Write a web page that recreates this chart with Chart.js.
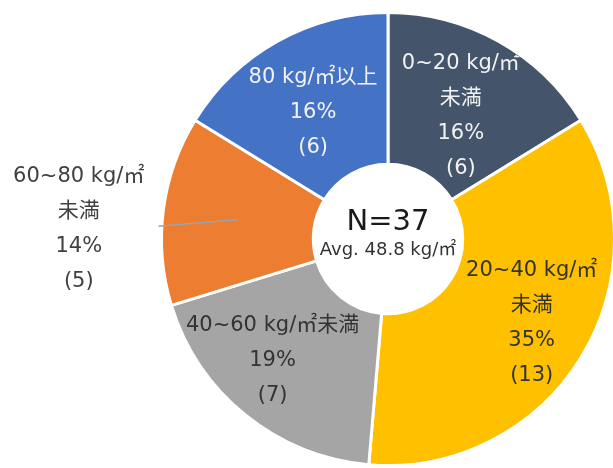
<!DOCTYPE html>
<html>
<head>
<meta charset="utf-8">
<script src="https://cdn.jsdelivr.net/npm/chart.js@4/dist/chart.umd.min.js"></script>
<style>
  html, body { margin: 0; padding: 0; background: #ffffff; overflow: hidden; width: 613px; height: 468px; }
  #wrap { position: absolute; left: 0; top: 0; width: 620px; height: 468px; }
</style>
</head>
<body>
<div id="wrap"><canvas id="c" width="620" height="468"></canvas></div>
<script>
// ---- data ----
const categories = ['0~20 kg/㎡未満', '20~40 kg/㎡未満', '40~60 kg/㎡未満', '60~80 kg/㎡未満', '80 kg/㎡以上'];
const labelLines = [['0~20 kg/㎡', '未満'], ['20~40 kg/㎡', '未満'], ['40~60 kg/㎡未満'], ['60~80 kg/㎡', '未満'], ['80 kg/㎡以上']];
const counts = [6, 13, 7, 5, 6];
const percents = [16, 35, 19, 14, 16];
const centerTitle = 'N=37';
const centerSub = 'Avg. 48.8 kg/㎡';

// ---- styles ----
const colors = ['#44546A', '#FFC000', '#A5A5A5', '#ED7D31', '#4472C4'];
const textColors = ['#f2f2f2', '#333333', '#333333', '#404040', '#f2f2f2'];
// label placement: radius factor of outer radius, angle delta (deg), outside with leader line
const placement = [
  { r: 0.63, d: 1.5, outside: false },
  { r: 0.735, d: -1.3, outside: false },
  { r: 0.74, d: 4.6, outside: false },
  { r: 1.366, d: -5.5, outside: true, lineFrom: 0.67, lineTo: 1.015, lineD: -4.1 },
  { r: 0.65, d: -1.4, outside: false }
];
const FONT = '"DejaVu Sans", "Noto Sans CJK JP", sans-serif';

const labelPlugin = {
  id: 'sliceLabels',
  afterDatasetsDraw(chart) {
    const ctx = chart.ctx;
    const meta = chart.getDatasetMeta(0);
    ctx.save();
    ctx.textAlign = 'center';
    ctx.textBaseline = 'middle';
    meta.data.forEach((arc, i) => {
      const p = arc.getProps(['x', 'y', 'startAngle', 'endAngle', 'outerRadius'], true);
      const mid = (p.startAngle + p.endAngle) / 2;
      const pl = placement[i];
      const a = mid + pl.d * Math.PI / 180;
      const lx = p.x + Math.cos(a) * p.outerRadius * pl.r;
      const ly = p.y + Math.sin(a) * p.outerRadius * pl.r;
      if (pl.outside) {
        const a2 = mid + pl.lineD * Math.PI / 180;
        ctx.strokeStyle = '#9aa4ae';
        ctx.lineWidth = 1.5;
        ctx.beginPath();
        ctx.moveTo(p.x + Math.cos(mid) * p.outerRadius * pl.lineFrom, p.y + Math.sin(mid) * p.outerRadius * pl.lineFrom);
        ctx.lineTo(p.x + Math.cos(a2) * p.outerRadius * pl.lineTo, p.y + Math.sin(a2) * p.outerRadius * pl.lineTo);
        ctx.stroke();
      }
      const lines = labelLines[i].concat([percents[i] + '%', '(' + counts[i] + ')']);
      const lh = 35;
      const y0 = ly - (lines.length - 1) * lh / 2;
      ctx.fillStyle = textColors[i];
      ctx.font = '21px ' + FONT;
      lines.forEach((t, k) => ctx.fillText(t, lx, y0 + k * lh));
    });
    // center text
    const a0 = meta.data[0];
    const cx = a0.x, cy = a0.y;
    ctx.fillStyle = '#1a1a1a';
    ctx.font = '29px ' + FONT;
    ctx.fillText(centerTitle, cx, cy - 17);
    ctx.fillStyle = '#333333';
    ctx.font = '18px ' + FONT;
    ctx.fillText(centerSub, cx, cy + 11);
    ctx.restore();
  }
};

new Chart(document.getElementById('c'), {
  type: 'doughnut',
  data: {
    labels: categories,
    datasets: [{
      data: counts,
      backgroundColor: colors,
      borderColor: '#ffffff',
      borderWidth: 3,
      hoverOffset: 0
    }]
  },
  options: {
    responsive: false,
    animation: false,
    cutout: '33%',
    rotation: 0,
    layout: { padding: { left: 160, right: 4, top: 11, bottom: 1 } },
    plugins: { legend: { display: false }, tooltip: { enabled: false } }
  },
  plugins: [labelPlugin]
});
</script>
</body>
</html>
